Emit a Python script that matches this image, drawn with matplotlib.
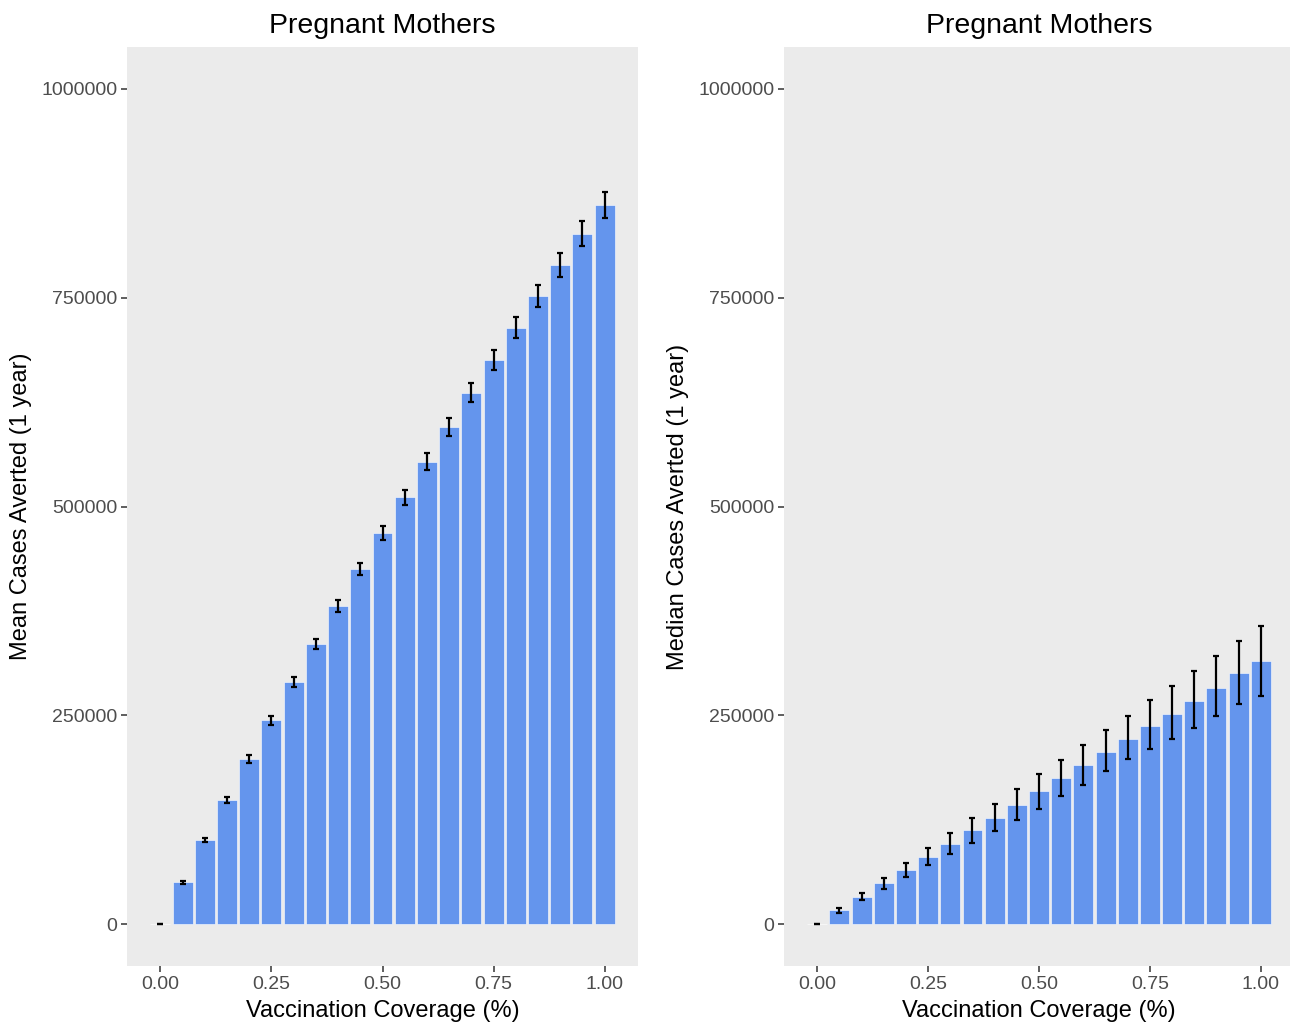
import matplotlib
matplotlib.use("Agg")
import matplotlib.pyplot as plt
import numpy as np

plt.rcParams["font.family"] = ["Liberation Sans", "DejaVu Sans"]

# coverage levels 0.00 .. 1.00 in 0.05 steps
coverage = [0.00, 0.05, 0.10, 0.15, 0.20, 0.25, 0.30, 0.35, 0.40, 0.45, 0.50,
            0.55, 0.60, 0.65, 0.70, 0.75, 0.80, 0.85, 0.90, 0.95, 1.00]

# mean cases averted and +/- error
mean_averted = [0, 50000, 100500, 148500, 197500, 244000, 290000, 335500,
                381000, 425000, 468000, 511000, 553500, 595000, 636000,
                675500, 714000, 752000, 789500, 826500, 861000]
mean_err = [0, 1500, 2500, 3500, 4500, 5500, 6000, 6500, 7000, 7500, 8500,
            9000, 10000, 11000, 11500, 12000, 12500, 13500, 14500, 15000, 16000]

# median cases averted with lower / upper bounds
median_averted = [0, 16800, 32300, 49000, 64700, 80200, 95800, 112600,
                  127000, 142500, 159300, 175000, 190400, 206000, 221600,
                  237000, 251500, 267000, 282600, 300500, 315000]
median_lo = [0, 13200, 28700, 42300, 57100, 70300, 84200, 97400, 111000,
             124900, 138500, 152900, 166100, 183200, 197600, 209600, 221200,
             234700, 249100, 263100, 273100]
median_hi = [0, 19200, 37100, 55500, 72700, 90700, 108600, 126600, 144500,
             162000, 179600, 196400, 214400, 232300, 249500, 267900, 285400,
             303400, 321000, 338600, 356900]

title = "Pregnant Mothers"
xlabel = "Vaccination Coverage (%)"
xticks = [0.00, 0.25, 0.50, 0.75, 1.00]
yticks = [0, 250000, 500000, 750000, 1000000]

W, H = 1290, 1024
fig = plt.figure(figsize=(W / 100, H / 100), dpi=100)

bar_color = "#6495ED"
panel_bg = "#EBEBEB"
tick_col = "#4D4D4D"


def make_panel(left_px, right_px, ylabel, vals, lo, hi, ylab_x):
    ax = fig.add_axes([left_px / W, 1 - 966 / H, (right_px - left_px) / W, (966 - 47) / H])
    ax.set_facecolor(panel_bg)
    x = np.array(coverage)
    ax.bar(x, vals, width=0.045, color=bar_color, edgecolor="white", linewidth=0.4, zorder=2)
    v = np.array(vals)
    yerr = np.vstack([v - np.array(lo), np.array(hi) - v])
    ax.errorbar(x, v, yerr=yerr, fmt="none", ecolor="black", elinewidth=1.6,
                capsize=2.2, capthick=1.6, zorder=3)
    ax.set_xlim(-0.075, 1.075)
    ax.set_ylim(-50000, 1050000)
    ax.set_xticks(xticks)
    ax.set_xticklabels([f"{t:.2f}" for t in xticks])
    ax.set_yticks(yticks)
    ax.set_yticklabels([str(t) for t in yticks])
    for s in ax.spines.values():
        s.set_visible(False)
    ax.tick_params(axis="both", colors="#333333", labelcolor=tick_col, labelsize=14,
                   length=4, width=1.1, pad=3)
    ax.set_title(title, fontsize=20.5, pad=10)
    ax.set_xlabel(xlabel, fontsize=17, labelpad=5)
    ax.set_ylabel(ylabel, fontsize=17)
    ax.yaxis.set_label_coords((ylab_x - left_px) / (right_px - left_px), 0.5)
    return ax


mean_lo = [m - e for m, e in zip(mean_averted, mean_err)]
mean_hi = [m + e for m, e in zip(mean_averted, mean_err)]

make_panel(127, 638, "Mean Cases Averted (1 year)", mean_averted, mean_lo, mean_hi, 32)
make_panel(784, 1294, "Median Cases Averted (1 year)", median_averted, median_lo, median_hi, 689)

fig.savefig("out.png", dpi=100, facecolor="white")
